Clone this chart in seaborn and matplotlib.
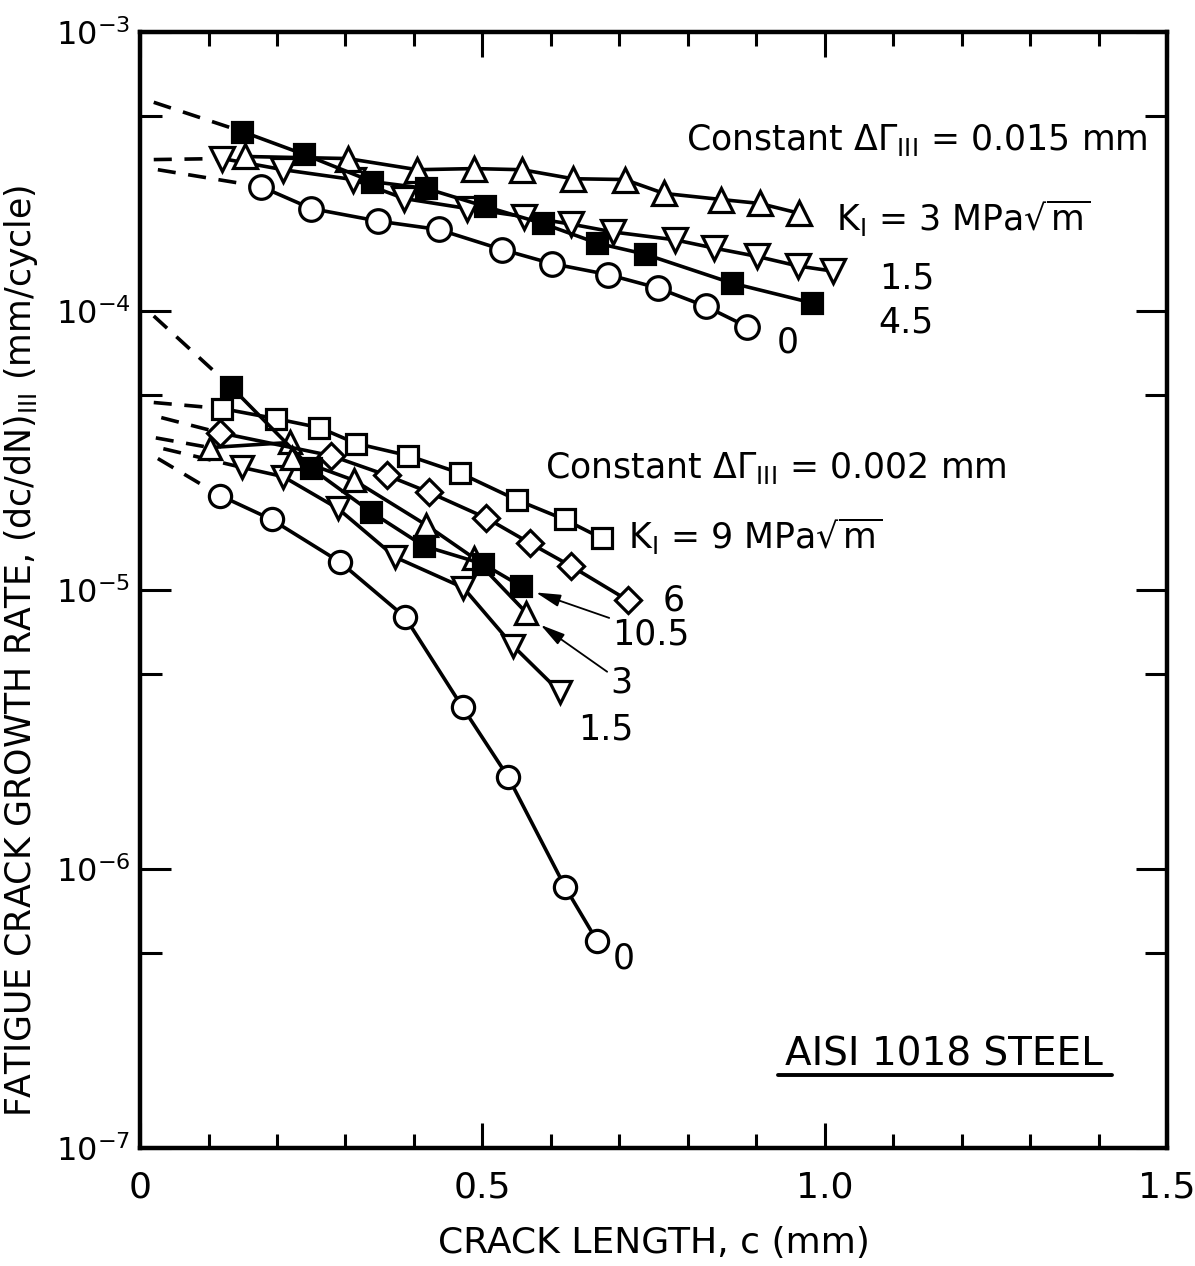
import matplotlib
matplotlib.use("Agg")
import numpy as np
import seaborn as sns
import matplotlib.pyplot as plt
from matplotlib.ticker import FixedLocator, FixedFormatter, NullFormatter

# ---- constant dGamma_III = 0.015 mm (upper family) ----
hi_k3_c = [0.154, 0.303, 0.405, 0.488, 0.558, 0.632, 0.708, 0.765, 0.849, 0.905, 0.963]
hi_k3_r = [3.58e-4, 3.52e-4, 3.21e-4, 3.24e-4, 3.21e-4, 2.98e-4, 2.96e-4, 2.64e-4, 2.51e-4, 2.43e-4, 2.24e-4]
hi_k15_c = [0.120, 0.209, 0.311, 0.386, 0.478, 0.561, 0.629, 0.691, 0.781, 0.839, 0.901, 0.961, 1.012]
hi_k15_r = [3.52e-4, 3.21e-4, 2.96e-4, 2.53e-4, 2.33e-4, 2.18e-4, 2.05e-4, 1.92e-4, 1.80e-4, 1.68e-4, 1.57e-4, 1.45e-4, 1.39e-4]
hi_k45_c = [0.149, 0.240, 0.339, 0.418, 0.504, 0.588, 0.668, 0.737, 0.864, 0.981]
hi_k45_r = [4.40e-4, 3.64e-4, 2.91e-4, 2.75e-4, 2.37e-4, 2.06e-4, 1.75e-4, 1.60e-4, 1.26e-4, 1.07e-4]
hi_k0_c = [0.177, 0.250, 0.348, 0.436, 0.529, 0.601, 0.684, 0.756, 0.826, 0.886]
hi_k0_r = [2.79e-4, 2.33e-4, 2.10e-4, 1.96e-4, 1.66e-4, 1.48e-4, 1.35e-4, 1.21e-4, 1.04e-4, 8.8e-5]

# ---- constant dGamma_III = 0.002 mm (lower family) ----
lo_k9_c = [0.120, 0.199, 0.262, 0.316, 0.392, 0.468, 0.551, 0.620, 0.675]
lo_k9_r = [4.47e-5, 4.11e-5, 3.82e-5, 3.35e-5, 3.03e-5, 2.62e-5, 2.10e-5, 1.79e-5, 1.53e-5]
lo_k6_c = [0.117, 0.279, 0.360, 0.422, 0.506, 0.570, 0.629, 0.712]
lo_k6_r = [3.66e-5, 3.03e-5, 2.58e-5, 2.24e-5, 1.81e-5, 1.47e-5, 1.22e-5, 9.2e-6]
lo_k105_c = [0.133, 0.250, 0.338, 0.414, 0.501, 0.557]
lo_k105_r = [5.35e-5, 2.73e-5, 1.90e-5, 1.44e-5, 1.24e-5, 1.03e-5]
lo_k3_c = [0.102, 0.219, 0.222, 0.313, 0.418, 0.488, 0.564]
lo_k3_r = [3.24e-5, 3.38e-5, 2.98e-5, 2.47e-5, 1.71e-5, 1.30e-5, 8.3e-6]
lo_k15_c = [0.149, 0.209, 0.289, 0.373, 0.472, 0.545, 0.613]
lo_k15_r = [2.75e-5, 2.55e-5, 1.96e-5, 1.31e-5, 1.02e-5, 6.3e-6, 4.32e-6]
lo_k0_c = [0.117, 0.192, 0.292, 0.387, 0.471, 0.538, 0.621, 0.668]
lo_k0_r = [2.18e-5, 1.79e-5, 1.26e-5, 8.0e-6, 3.8e-6, 2.13e-6, 8.6e-7, 5.5e-7]

# start points of the dashed extrapolations toward c = 0
hi_ext = {"k45": (0.020, 5.6e-4), "k15": (0.020, 3.49e-4), "k0": (0.026, 3.21e-4)}
lo_ext = {"k9": (0.020, 4.7e-5), "k6": (0.031, 4.15e-5), "k3": (0.023, 3.51e-5),
          "k15": (0.034, 3.21e-5), "k0": (0.026, 2.96e-5), "k105": (0.020, 9.6e-5)}

x_ticks = [0, 0.5, 1.0, 1.5]
x_ticklabels = ["0", "0.5", "1.0", "1.5"]
x_minor = [0.1, 0.2, 0.3, 0.4, 0.6, 0.7, 0.8, 0.9, 1.1, 1.2, 1.3, 1.4]
y_ticks = [1e-7, 1e-6, 1e-5, 1e-4, 1e-3]
y_ticklabels = [r"$10^{-7}$", r"$10^{-6}$", r"$10^{-5}$", r"$10^{-4}$", r"$10^{-3}$"]
y_minor = [5e-7, 5e-6, 5e-5, 5e-4]

sns.set_style("ticks")
plt.rcParams['font.family'] = ['DejaVu Sans']
plt.rcParams['mathtext.fontset'] = 'dejavusans'
plt.rcParams['text.color'] = 'black'
plt.rcParams['axes.labelcolor'] = 'black'
plt.rcParams['xtick.color'] = 'black'
plt.rcParams['ytick.color'] = 'black'

fig = plt.figure(figsize=(11.95, 12.66), dpi=100)
ax = fig.add_axes([0.1172, 0.0932, 0.8594, 0.8815])


def curve(c, r, marker, face, ms):
    sns.lineplot(x=c, y=r, ax=ax, color="black", linewidth=2.6, marker=marker,
                 markersize=ms, markerfacecolor=face, markeredgecolor="black",
                 markeredgewidth=2.3, estimator=None, sort=False, zorder=3)


def dashed(start, c, r):
    sns.lineplot(x=[start[0], c[0]], y=[start[1], r[0]], ax=ax, color="black",
                 linewidth=2.6, linestyle=(0, (5, 3.5)), estimator=None, sort=False, zorder=2)


dashed(hi_ext["k45"], hi_k45_c, hi_k45_r)
dashed(hi_ext["k15"], hi_k15_c, hi_k15_r)
dashed(hi_ext["k0"], hi_k0_c, hi_k0_r)
curve(hi_k0_c, hi_k0_r, "o", "white", 17)
curve(hi_k15_c, hi_k15_r, "v", "white", 17)
curve(hi_k3_c, hi_k3_r, "^", "white", 17)
curve(hi_k45_c, hi_k45_r, "s", "black", 15)

dashed(lo_ext["k9"], lo_k9_c, lo_k9_r)
dashed(lo_ext["k6"], lo_k6_c, lo_k6_r)
dashed(lo_ext["k3"], lo_k3_c, lo_k3_r)
dashed(lo_ext["k15"], lo_k15_c, lo_k15_r)
dashed(lo_ext["k0"], lo_k0_c, lo_k0_r)
dashed(lo_ext["k105"], lo_k105_c, lo_k105_r)
curve(lo_k0_c, lo_k0_r, "o", "white", 16)
curve(lo_k15_c, lo_k15_r, "v", "white", 16)
curve(lo_k3_c, lo_k3_r, "^", "white", 16)
curve(lo_k6_c, lo_k6_r, "D", "white", 13)
curve(lo_k9_c, lo_k9_r, "s", "white", 15)
curve(lo_k105_c, lo_k105_r, "s", "black", 15)

ax.set_xlim(0, 1.5)
ax.set_yscale("log")
ax.set_ylim(1e-7, 1e-3)
ax.xaxis.set_major_locator(FixedLocator(x_ticks))
ax.xaxis.set_major_formatter(FixedFormatter(x_ticklabels))
ax.xaxis.set_minor_locator(FixedLocator(x_minor))
ax.yaxis.set_major_locator(FixedLocator(y_ticks))
ax.yaxis.set_major_formatter(FixedFormatter(y_ticklabels))
ax.yaxis.set_minor_locator(FixedLocator(y_minor))
ax.yaxis.set_minor_formatter(NullFormatter())
ax.tick_params(which="both", direction="in", top=True, right=True, width=2.2, color="black")
ax.tick_params(axis="x", which="major", length=18, labelsize=26, pad=16)
ax.tick_params(axis="x", which="minor", length=10)
ax.tick_params(axis="y", which="major", length=22, labelsize=23, pad=7)
ax.tick_params(axis="y", which="minor", length=16)
for sp in ax.spines.values():
    sp.set_linewidth(3.2)
    sp.set_color("black")

ax.set_xlabel("CRACK LENGTH, c (mm)", fontsize=26, labelpad=16)
ax.set_ylabel(r"FATIGUE CRACK GROWTH RATE, (dc/dN)$_{\rm III}$ (mm/cycle)", fontsize=25)
ax.yaxis.set_label_coords(-0.097, 0.446)

fs = 25
arrow = dict(arrowstyle="-|>,head_length=0.6,head_width=0.15", color="black",
             lw=1.3, shrinkA=0, shrinkB=0)
ax.text(0.797, 4.1e-4, r"Constant $\Delta\Gamma_{\rm III}$ = 0.015 mm", fontsize=fs, va="center")
ax.text(1.016, 2.15e-4, r"K$_{\rm I}$ = 3 MPa$\sqrt{\rm m}$", fontsize=fs, va="center")
ax.text(1.079, 1.31e-4, "1.5", fontsize=fs, va="center")
ax.text(1.079, 9.1e-5, "4.5", fontsize=fs, va="center")
ax.text(0.930, 7.7e-5, "0", fontsize=fs, va="center")

ax.text(0.592, 2.73e-5, r"Constant $\Delta\Gamma_{\rm III}$ = 0.002 mm", fontsize=fs, va="center")
ax.text(0.713, 1.55e-5, r"K$_{\rm I}$ = 9 MPa$\sqrt{\rm m}$", fontsize=fs, va="center")
ax.text(0.763, 9.2e-6, "6", fontsize=fs, va="center")
ax.annotate("10.5", xy=(0.578, 9.8e-6), xytext=(0.690, 6.9e-6), fontsize=fs, va="center",
            arrowprops=dict(arrow, relpos=(0.15, 0.85)))
ax.annotate("3", xy=(0.585, 7.5e-6), xytext=(0.687, 4.66e-6), fontsize=fs, va="center",
            arrowprops=dict(arrow, relpos=(0.0, 0.75)))
ax.text(0.640, 3.16e-6, "1.5", fontsize=fs, va="center")
ax.text(0.690, 4.78e-7, "0", fontsize=fs, va="center")

ax.text(0.783, 0.084, "AISI 1018 STEEL", transform=ax.transAxes, fontsize=28,
        ha="center", va="center")
ax.plot([0.621, 0.946], [0.065, 0.065], transform=ax.transAxes, color="black", lw=2.8)

fig.savefig("out.png", dpi=100, facecolor="white")
